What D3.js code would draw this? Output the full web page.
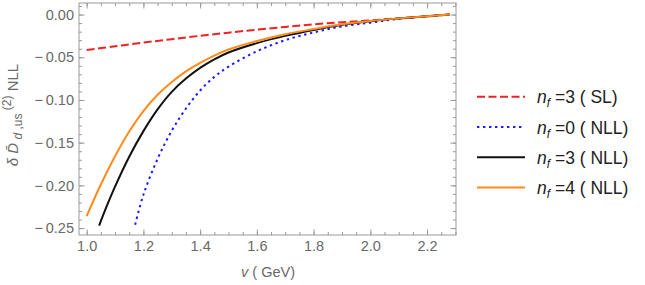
<!DOCTYPE html>
<html>
<head>
<meta charset="utf-8">
<script src="https://cdn.jsdelivr.net/npm/d3@7"></script>
<style>
  body { margin: 0; background: #fff; }
  #chart { width: 645px; height: 285px; }
  text { font-family: "Liberation Sans", Arial, sans-serif; }
</style>
</head>
<body>
<div id="chart"></div>
<script>
// n_f = 3 (SL)
const vSL = [1.00, 1.10, 1.20, 1.30, 1.40, 1.50, 1.60, 1.70, 1.80, 1.90, 2.00, 2.10, 2.20, 2.28];
const dSL = [-0.0415, -0.0372, -0.0329, -0.0288, -0.0249, -0.0212, -0.0177, -0.0145, -0.0115, -0.0090, -0.0068, -0.0045, -0.0022, 0.0];

// n_f = 0 (NLL)
const vNf0 = [1.171, 1.20, 1.25, 1.30, 1.35, 1.40, 1.45, 1.50, 1.60, 1.70, 1.80, 1.90, 2.00, 2.10, 2.20, 2.28];
const dNf0 = [-0.246, -0.211, -0.169, -0.136, -0.110, -0.089, -0.073, -0.061, -0.043, -0.030, -0.021, -0.014, -0.0095, -0.005, -0.002, 0.0];

// n_f = 3 (NLL)
const vNf3 = [1.044, 1.07, 1.10, 1.15, 1.20, 1.25, 1.30, 1.35, 1.40, 1.45, 1.50, 1.60, 1.70, 1.80, 1.90, 2.00, 2.10, 2.20, 2.28];
const dNf3 = [-0.247, -0.225, -0.2015, -0.1665, -0.1365, -0.111, -0.0905, -0.075, -0.0625, -0.0525, -0.0445, -0.0335, -0.025, -0.018, -0.012, -0.0078, -0.0045, -0.002, 0.0];

// n_f = 4 (NLL)
const vNf4 = [1.00, 1.05, 1.10, 1.15, 1.20, 1.25, 1.30, 1.35, 1.40, 1.45, 1.50, 1.60, 1.70, 1.80, 1.90, 2.00, 2.10, 2.20, 2.28];
const dNf4 = [-0.236, -0.199, -0.166, -0.137, -0.113, -0.094, -0.079, -0.0665, -0.0565, -0.048, -0.041, -0.031, -0.023, -0.017, -0.0115, -0.0075, -0.0045, -0.002, 0.0];

const xTicks = [1.0, 1.2, 1.4, 1.6, 1.8, 2.0, 2.2];
const yTicks = [0.00, -0.05, -0.10, -0.15, -0.20, -0.25];

const series = [
  { nf: "3", tag: "SL", v: vSL, d: dSL, color: "#ee2222", dash: "8,3.5" },
  { nf: "0", tag: "NLL", v: vNf0, d: dNf0, color: "#1a1aff", dash: "2.4,3.6" },
  { nf: "3", tag: "NLL", v: vNf3, d: dNf3, color: "#111", dash: null },
  { nf: "4", tag: "NLL", v: vNf4, d: dNf4, color: "#ff8c1a", dash: null }
];

const width = 645, height = 285;
const plotL = 79, plotR = 456, plotT = 3, plotB = 235;

const svg = d3.select("#chart").append("svg")
  .attr("width", width)
  .attr("height", height);

const x = d3.scaleLinear().domain([0.973, 2.302]).range([plotL, plotR]);
const y = d3.scaleLinear().domain([-0.2581, 0.0135]).range([plotB, plotT]);

const frameColor = "#9a9a9a";
const labelColor = "#6a6a6a";

// minor ticks
const xMinor = d3.range(0.95, 2.31, 0.05).filter(v => v > 0.973 && v < 2.302);
const yMinor = d3.range(-0.25, 0.011, 0.01).filter(v => v > -0.2581 && v < 0.0135);

function tickAxis(axis, tx, ty) {
  const g = svg.append("g").attr("transform", `translate(${tx},${ty})`).call(axis);
  g.select(".domain").remove();
  g.selectAll("line").attr("stroke", frameColor);
  g.selectAll("text").attr("fill", labelColor).style("font-size", "14.5px");
  return g;
}

tickAxis(d3.axisBottom(x).tickValues(xMinor).tickSize(-3).tickFormat(""), 0, plotB);
tickAxis(d3.axisTop(x).tickValues(xMinor).tickSize(-3).tickFormat(""), 0, plotT);
tickAxis(d3.axisLeft(y).tickValues(yMinor).tickSize(-3).tickFormat(""), plotL, 0);
tickAxis(d3.axisRight(y).tickValues(yMinor).tickSize(-3).tickFormat(""), plotR, 0);

tickAxis(d3.axisBottom(x).tickValues(xTicks).tickSize(-5.5).tickPadding(6).tickFormat(d3.format(".1f")), 0, plotB);
tickAxis(d3.axisTop(x).tickValues(xTicks).tickSize(-5.5).tickFormat(""), 0, plotT);
tickAxis(d3.axisLeft(y).tickValues(yTicks).tickSize(-5.5).tickPadding(5)
  .tickFormat(d => d === 0 ? "0.00" : "\u2212\u2009" + d3.format(".2f")(Math.abs(d))), plotL, 0);
tickAxis(d3.axisRight(y).tickValues(yTicks).tickSize(-5.5).tickFormat(""), plotR, 0);

// frame
svg.append("rect")
  .attr("x", plotL).attr("y", plotT)
  .attr("width", plotR - plotL).attr("height", plotB - plotT)
  .attr("fill", "none")
  .attr("stroke", frameColor)
  .attr("stroke-width", 1);

// curves
const line = d3.line()
  .x(p => x(p[0]))
  .y(p => y(p[1]))
  .curve(d3.curveCatmullRom.alpha(0.5));

svg.append("g")
  .selectAll("path")
  .data(series)
  .enter()
  .append("path")
  .attr("d", s => line(s.v.map((v, i) => [v, s.d[i]])))
  .attr("fill", "none")
  .attr("stroke", s => s.color)
  .attr("stroke-width", 2)
  .attr("stroke-dasharray", s => s.dash);

// axis title
const xt = svg.append("text")
  .attr("x", 268).attr("y", 277)
  .attr("text-anchor", "middle")
  .attr("fill", labelColor)
  .style("font-size", "14.5px");
xt.append("tspan").attr("font-style", "italic").text("v");
xt.append("tspan").text(" ( GeV)");

// y title (rotated)
const yt = svg.append("text")
  .attr("transform", "translate(18,115) rotate(-90)")
  .attr("text-anchor", "middle")
  .attr("fill", labelColor)
  .style("font-size", "15px");
yt.append("tspan").attr("font-style", "italic").text("\u03b4 ");
yt.append("tspan").attr("font-style", "italic").text("D\u0304");
yt.append("tspan").attr("dy", 4).style("font-size", "12px").text(" ");
yt.append("tspan").attr("font-style", "italic").style("font-size", "12px").text("d");
yt.append("tspan").style("font-size", "12px").text(" ,us");
yt.append("tspan").attr("dy", -11).style("font-size", "12px").text(" (2)");
yt.append("tspan").attr("dy", 7).text(" NLL");

// legend
const legend = svg.append("g")
  .selectAll("g")
  .data(series)
  .enter()
  .append("g")
  .attr("transform", (s, i) => `translate(477,${96.7 + i * 30.3})`);

legend.append("line")
  .attr("x1", 0).attr("x2", 48)
  .attr("y1", 0).attr("y2", 0)
  .attr("stroke", s => s.color)
  .attr("stroke-width", 2)
  .attr("stroke-dasharray", s => s.dash);

const lt = legend.append("text")
  .attr("x", 60).attr("y", 6.6)
  .attr("fill", "#222")
  .style("font-size", "17.5px");
lt.append("tspan").attr("font-style", "italic").text("n");
lt.append("tspan").attr("font-style", "italic").attr("dy", 4).style("font-size", "12px").text("f");
lt.append("tspan").attr("dy", -4).text(s => " =" + s.nf + " ( " + s.tag + ")");
</script>
</body>
</html>
